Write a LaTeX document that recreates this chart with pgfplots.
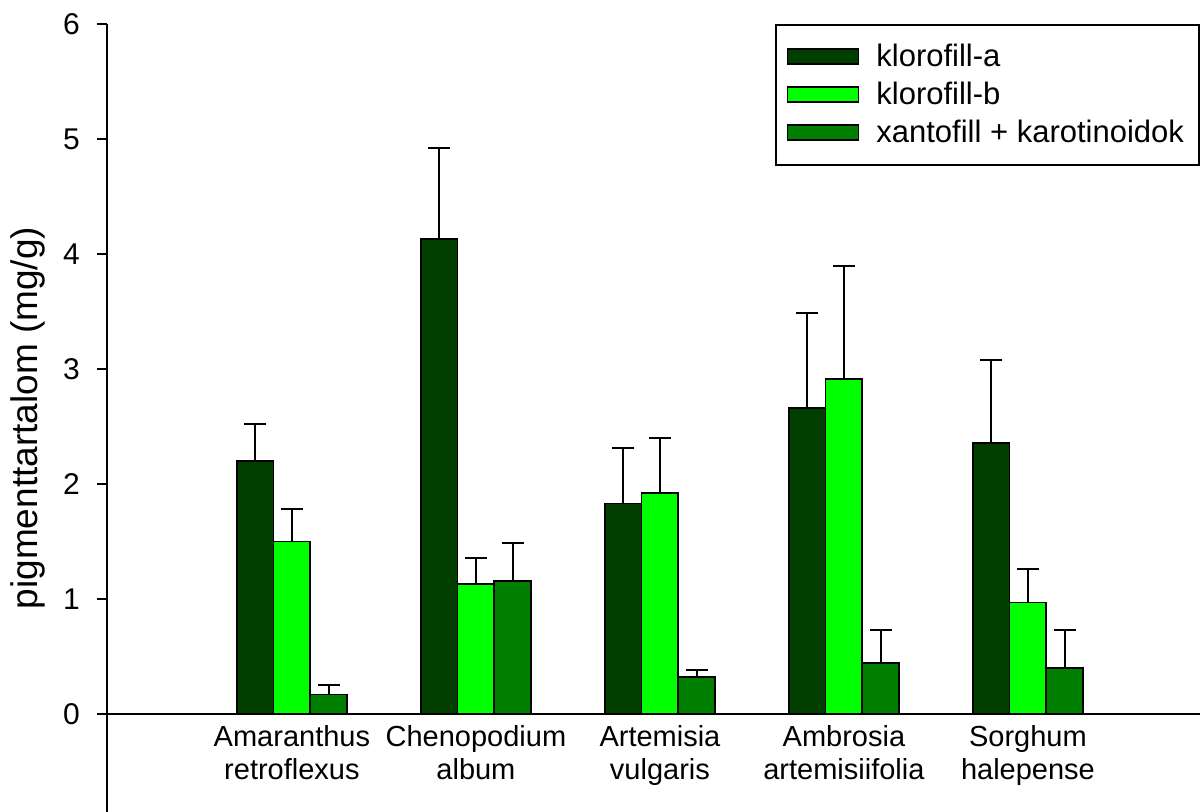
\documentclass[border=0pt]{standalone}
\usepackage{pgfplots}
\pgfplotsset{compat=1.18}
\usepackage{fontspec}
\setmainfont{Liberation Sans}

\definecolor{chlA}{RGB}{0,63,0}
\definecolor{chlB}{RGB}{0,255,0}
\definecolor{carot}{RGB}{0,127,0}

\pgfplotsset{
  legbox/.style={legend image code/.code={%
    \draw[##1,draw=black,line width=0.9pt] (0pt,-3.75pt) rectangle (35.5pt,3.75pt);
    \path (42pt,0pt);}},
}

\begin{document}
\begin{tikzpicture}
\begin{axis}[
  scale only axis, width=546.5pt, height=394pt,
  xmin=-1.005, xmax=4.935, ymin=-0.852, ymax=6,
  axis y line=left, axis x line=middle,
  axis line style={-, line width=1pt, black},
  hide obscured y ticks=false, hide obscured x ticks=false,
  ytick={0,1,2,3,4,5,6},
  tick align=outside, major tick length=5pt,
  ytick style={line width=1pt, black},
  xtick={0,1,2,3,4}, xtick style={draw=none},
  xticklabels={{Amaranthus\\retroflexus},{Chenopodium\\album},{Artemisia\\vulgaris},{Ambrosia\\artemisiifolia},{Sorghum\\halepense}},
  xticklabel style={align=center, font=\fontsize{14.5}{16.5}\selectfont, yshift=3pt},
  yticklabel style={font=\fontsize{15}{17}\selectfont, xshift=-5pt},
  /pgf/number format/assume math mode=true,
  ylabel={pigmenttartalom (mg/g)},
  ylabel style={font=\fontsize{18.5}{22}\selectfont, at={(axis description cs:-0.072,0.5)}, anchor=center},
  ybar, bar width=0.2,
  every axis plot/.append style={draw=black, line width=0.9pt},
  error bars/error bar style={line width=1pt, black},
  error bars/error mark options={rotate=90, mark size=5.5pt, line width=1pt, black},
  legend style={at={(1,1)}, anchor=north east, draw=black, line width=1pt, fill=white,
    font=\fontsize{15.5}{18}\selectfont, cells={anchor=west}, row sep=2.3pt,
    inner xsep=5.5pt, inner ysep=7.5pt},
]
% chlorophyll a
\addplot[fill=chlA, bar shift=-0.2, legbox,
  error bars/.cd, y dir=plus, y explicit] coordinates {
  (0,2.20) +- (0,0.32)
  (1,4.13) +- (0,0.79)
  (2,1.83) +- (0,0.48)
  (3,2.66) +- (0,0.83)
  (4,2.355) +- (0,0.72)
};
% chlorophyll b
\addplot[fill=chlB, bar shift=0, legbox,
  error bars/.cd, y dir=plus, y explicit] coordinates {
  (0,1.50) +- (0,0.28)
  (1,1.13) +- (0,0.23)
  (2,1.92) +- (0,0.48)
  (3,2.915) +- (0,0.98)
  (4,0.97) +- (0,0.29)
};
% xanthophylls + carotenoids
\addplot[fill=carot, bar shift=0.2, legbox,
  error bars/.cd, y dir=plus, y explicit] coordinates {
  (0,0.17) +- (0,0.08)
  (1,1.16) +- (0,0.33)
  (2,0.325) +- (0,0.06)
  (3,0.445) +- (0,0.285)
  (4,0.397) +- (0,0.333)
};
\legend{klorofill-a, klorofill-b, xantofill + karotinoidok}
\end{axis}
\pgfresetboundingbox
\path ([xshift=-53.5pt]current axis.south west) rectangle ([yshift=12pt]current axis.north east);
\end{tikzpicture}
\end{document}
